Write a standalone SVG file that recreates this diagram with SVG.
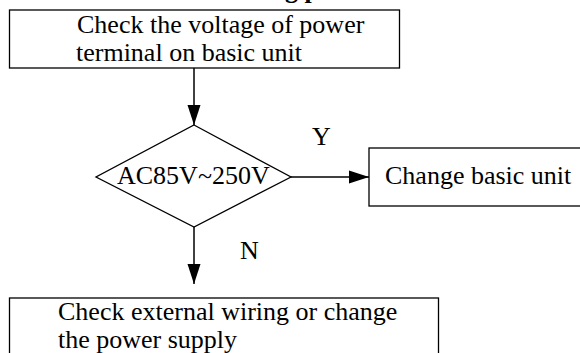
<svg xmlns="http://www.w3.org/2000/svg" width="580" height="353" viewBox="0 0 580 353">
<defs>
<style>
.box{fill:#fff;stroke:#000;stroke-width:1.3}
.t{font-family:"Liberation Serif","Times New Roman",serif;font-size:26px;fill:#000}
.title{font-family:"Liberation Serif","Times New Roman",serif;font-size:26px;font-weight:bold;fill:#000}
.c{stroke:#000;stroke-width:1.5;fill:none;marker-end:url(#ah)}
</style>
<marker id="ah" markerUnits="userSpaceOnUse" markerWidth="20" markerHeight="14" refX="20" refY="7" orient="auto">
<path d="M0,0.5 L20,7 L0,13.5 z" fill="#000"/>
</marker>
</defs>
<rect width="580" height="353" fill="#fff"/>
<text class="title" x="285" y="-2">g p</text>
<g id="connectors">
<line class="c" x1="194" y1="68" x2="194" y2="125"/>
<line class="c" x1="291" y1="177" x2="369" y2="177"/>
<line class="c" x1="194" y1="227" x2="194" y2="284"/>
<text class="t" x="312" y="145">Y</text>
<text class="t" x="240" y="259">N</text>
</g>
<g id="check-voltage">
<rect class="box" x="9.5" y="10" width="390" height="58"/>
<text class="t" x="77" y="33">Check the voltage of power</text>
<text class="t" x="76" y="61">terminal on basic unit</text>
</g>
<g id="decision">
<polygon class="box" points="194,125 291,177 194,227 96,177"/>
<text class="t" x="117" y="184">AC85V~250V</text>
</g>
<g id="change-unit">
<rect class="box" x="369" y="148" width="230" height="58"/>
<text class="t" x="385" y="184">Change basic unit</text>
</g>
<g id="check-wiring">
<rect class="box" x="9.5" y="298" width="429" height="70"/>
<text class="t" x="58" y="320">Check external wiring or change</text>
<text class="t" x="58" y="348">the power supply</text>
</g>
</svg>
